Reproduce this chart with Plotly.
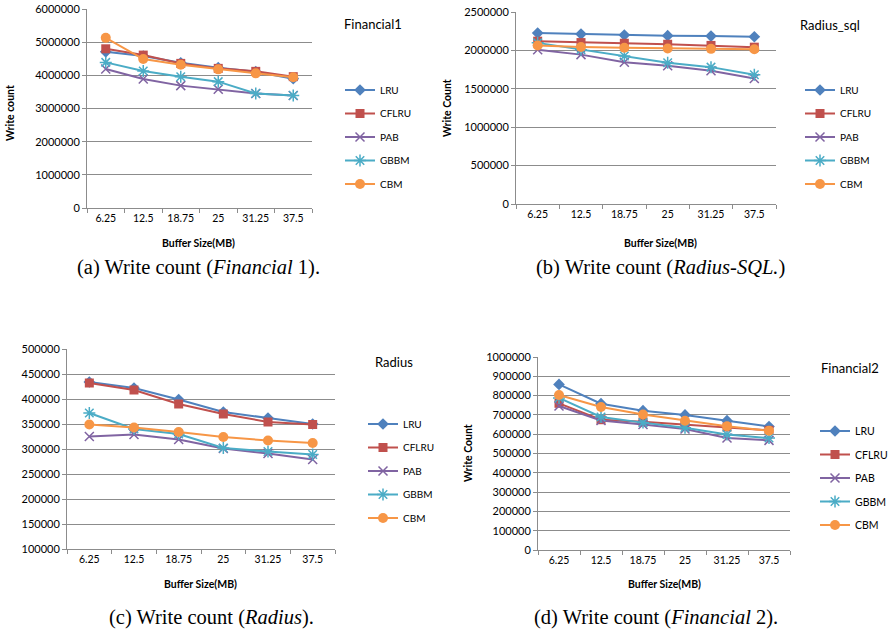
import plotly.graph_objects as go

# ---------------- data ----------------
buffer_sizes = ["6.25", "12.5", "18.75", "25", "31.25", "37.5"]
series_names = ["LRU", "CFLRU", "PAB", "GBBM", "CBM"]

# (a) Financial1
fin1_lru   = [4710000, 4580000, 4380000, 4230000, 4110000, 3900000]
fin1_cflru = [4800000, 4610000, 4360000, 4210000, 4120000, 3960000]
fin1_pab   = [4190000, 3890000, 3690000, 3580000, 3450000, 3390000]
fin1_gbbm  = [4390000, 4130000, 3960000, 3810000, 3450000, 3390000]
fin1_cbm   = [5130000, 4490000, 4320000, 4180000, 4060000, 3940000]

# (b) Radius_sql
rsql_lru   = [2225000, 2212000, 2200000, 2192000, 2186000, 2178000]
rsql_cflru = [2120000, 2102000, 2093000, 2080000, 2065000, 2042000]
rsql_pab   = [2008000, 1945000, 1845000, 1800000, 1734000, 1635000]
rsql_gbbm  = [2098000, 2010000, 1928000, 1840000, 1782000, 1682000]
rsql_cbm   = [2064000, 2044000, 2035000, 2025000, 2020000, 2016000]

# (c) Radius
rad_lru   = [434000, 422000, 399000, 374000, 362000, 350000]
rad_cflru = [432000, 418000, 390000, 370000, 354000, 349000]
rad_pab   = [325000, 329000, 319000, 301000, 291000, 279000]
rad_gbbm  = [372000, 340000, 330000, 302000, 295000, 289000]
rad_cbm   = [349000, 343000, 334000, 324000, 317000, 312000]

# (d) Financial2
fin2_lru   = [858000, 758000, 722000, 700000, 670000, 640000]
fin2_cflru = [760000, 675000, 664000, 649000, 637000, 620000]
fin2_pab   = [746000, 671000, 650000, 627000, 580000, 568000]
fin2_gbbm  = [788000, 689000, 660000, 634000, 598000, 580000]
fin2_cbm   = [803000, 741000, 702000, 670000, 641000, 618000]

panel_titles = ["Financial1", "Radius_sql", "Radius", "Financial2"]
y_ranges = [[0, 6000000], [0, 2500000], [100000, 500000], [0, 1000000]]
y_dticks = [1000000, 500000, 50000, 100000]

panels = [
    [fin1_lru, fin1_cflru, fin1_pab, fin1_gbbm, fin1_cbm],
    [rsql_lru, rsql_cflru, rsql_pab, rsql_gbbm, rsql_cbm],
    [rad_lru, rad_cflru, rad_pab, rad_gbbm, rad_cbm],
    [fin2_lru, fin2_cflru, fin2_pab, fin2_gbbm, fin2_cbm],
]

# ---------------- styling ----------------
W, H = 888, 642
colors = ["#4F81BD", "#C0504D", "#8064A2", "#4BACC6", "#F79646"]
symbols = ["diamond", "square", "x-thin-open", "asterisk-open", "circle"]
msizes = [9, 9, 9, 10, 10]
FONT = "Lato"
GRID = "#8C8C8C"


def px(x):
    return x / W


def py(y):
    return 1 - y / H


# plot-area boxes in pixels: (left, right, top, bottom)
boxes = [(87, 312, 9, 208), (516, 776, 12, 204), (67, 335, 349, 549), (538, 790, 357, 550)]
legend_pos = [(340, 75.5), (800, 75.5), (363, 409.5), (815, 416.5)]
legend_font = [10, 10, 10, 10.5]
title_pos = [(342, 24), (798, 25), (373, 362), (819, 368)]
ytitle = [("Write count", 10, 113), ("Write Count", 447, 108), None, ("Write Count", 468, 453)]
xtitle_pos = [(198, 243), (660, 243), (200, 584), (664, 584)]
captions = [
    ("(a) Write count (<i>Financial</i> 1).", 198, 267),
    ("(b) Write count (<i>Radius-SQL.</i>)", 660, 267),
    ("(c) Write count (<i>Radius</i>).", 211, 617),
    ("(d) Write count (<i>Financial</i> 2).", 656, 617),
]

fig = go.Figure()
layout = dict(
    width=W, height=H, autosize=False,
    margin=dict(l=0, r=0, t=0, b=0, autoexpand=False),
    paper_bgcolor="white", plot_bgcolor="white",
    font=dict(family=FONT, size=11, color="black"),
    annotations=[],
)

for i, (vals, box) in enumerate(zip(panels, boxes)):
    n = "" if i == 0 else str(i + 1)
    xa, ya = "x" + n, "y" + n
    leg = "legend" + n
    for j, name in enumerate(series_names):
        mline = dict(width=1.5, color=colors[j]) if "open" in symbols[j] else dict(width=0)
        fig.add_trace(go.Scatter(
            x=buffer_sizes, y=vals[j], name=name, mode="lines+markers",
            xaxis=xa, yaxis=ya, legend=leg, legendgroup=f"{i}-{j}",
            line=dict(color=colors[j], width=2),
            marker=dict(symbol=symbols[j], size=msizes[j], color=colors[j], line=mline),
        ))
    l, r, t, b = box
    layout["xaxis" + n] = dict(
        domain=[px(l), px(r)], anchor=ya, type="category",
        range=[-0.5, 5.5], tickson="boundaries", ticks="outside", ticklen=4,
        tickcolor=GRID, showline=True, linecolor=GRID, linewidth=1,
        showgrid=False, tickangle=0, tickfont=dict(size=10.5, family=FONT),
    )
    layout["yaxis" + n] = dict(
        domain=[py(b), py(t)], anchor=xa, range=y_ranges[i], dtick=y_dticks[i],
        tickformat="d", ticks="outside", ticklen=4, tickcolor=GRID,
        showline=True, linecolor=GRID, linewidth=1, showgrid=True,
        gridcolor=GRID, gridwidth=1, zeroline=False,
        tickfont=dict(size=11, family=FONT),
    )
    lx, ly = legend_pos[i]
    layout[leg] = dict(
        x=px(lx), y=py(ly), xanchor="left", yanchor="top",
        font=dict(size=legend_font[i], family=FONT), tracegroupgap=4.5,
        bgcolor="rgba(0,0,0,0)", itemclick=False,
    )
    tx, ty = title_pos[i]
    layout["annotations"].append(dict(
        text=panel_titles[i], x=px(tx), y=py(ty), xref="paper", yref="paper",
        xanchor="left", yanchor="middle", showarrow=False,
        font=dict(size=13, family=FONT)))
    if ytitle[i]:
        s, yx, yy = ytitle[i]
        layout["annotations"].append(dict(
            text=f"<b>{s}</b>", x=px(yx), y=py(yy), xref="paper", yref="paper",
            xanchor="center", yanchor="middle", textangle=-90, showarrow=False,
            font=dict(size=10.5, family=FONT)))
    xx, xy = xtitle_pos[i]
    layout["annotations"].append(dict(
        text="<b>Buffer Size(MB)</b>", x=px(xx), y=py(xy), xref="paper", yref="paper",
        xanchor="center", yanchor="middle", showarrow=False,
        font=dict(size=10.5, family=FONT)))
    c, cx, cy = captions[i]
    layout["annotations"].append(dict(
        text=c, x=px(cx), y=py(cy), xref="paper", yref="paper",
        xanchor="center", yanchor="middle", showarrow=False,
        font=dict(size=20.5, family="Liberation Serif")))

fig.update_layout(**layout)
fig.write_html("out.html", config={"displayModeBar": False},
               post_script="document.body.style.margin='0';")
